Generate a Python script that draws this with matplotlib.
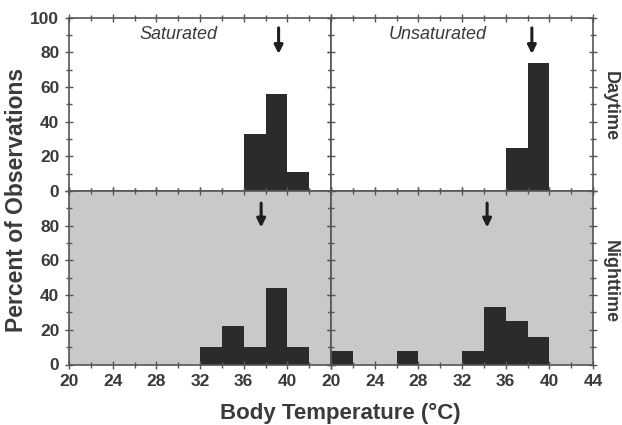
import numpy as np
import matplotlib.pyplot as plt
from matplotlib.ticker import MultipleLocator

# bin left edges (2 degree bins) and percentages
sat_day_bins = [36, 38, 40]
sat_day_pct = [33, 56, 11]
unsat_day_bins = [36, 38]
unsat_day_pct = [25, 74]
sat_night_bins = [32, 34, 36, 38, 40]
sat_night_pct = [10, 22, 10, 44, 10]
unsat_night_bins = [20, 26, 32, 34, 36, 38]
unsat_night_pct = [8, 8, 8, 33, 25, 16]

# mean body temperature arrows
sat_day_mean = 39.2
unsat_day_mean = 38.4
sat_night_mean = 37.6
unsat_night_mean = 34.3

x_ticks = [20, 24, 28, 32, 36, 40, 44]

plt.rcParams['font.family'] = ['Liberation Sans', 'DejaVu Sans']
txt_col = '#3a3a3a'
frame_col = '#555555'
bar_col = '#2b2b2b'
night_bg = '#c9c9c9'

fig = plt.figure(figsize=(6.22, 4.25), dpi=100)
L, W = 69 / 622, 262 / 622
top_b, bot_b, H = 1 - 191 / 425, 1 - 364.5 / 425, 173.5 / 425

ax_sd = fig.add_axes([L, top_b, W, H])
ax_ud = fig.add_axes([L + W, top_b, W, H])
ax_sn = fig.add_axes([L, bot_b, W, H])
ax_un = fig.add_axes([L + W, bot_b, W, H])

panels = [
    (ax_sd, sat_day_bins, sat_day_pct, sat_day_mean, 'white'),
    (ax_ud, unsat_day_bins, unsat_day_pct, unsat_day_mean, 'white'),
    (ax_sn, sat_night_bins, sat_night_pct, sat_night_mean, night_bg),
    (ax_un, unsat_night_bins, unsat_night_pct, unsat_night_mean, night_bg),
]

for ax, bins, pct, mean, bg in panels:
    ax.set_facecolor(bg)
    ax.bar(bins, pct, width=2, align='edge', color=bar_col, linewidth=0)
    ax.set_xlim(20, 44)
    ax.set_ylim(0, 100)
    ax.xaxis.set_major_locator(MultipleLocator(4))
    ax.xaxis.set_minor_locator(MultipleLocator(2))
    ax.yaxis.set_major_locator(MultipleLocator(20))
    ax.yaxis.set_minor_locator(MultipleLocator(10))
    ax.tick_params(which='both', direction='inout', top=True, right=True,
                   color=frame_col, width=1, labelcolor=txt_col)
    ax.tick_params(which='major', length=6, pad=4)
    ax.tick_params(which='minor', length=4)
    for s in ax.spines.values():
        s.set_color(frame_col)
        s.set_linewidth(1.2)
    y0 = 94 if bg == 'white' else 93
    ax.annotate('', xy=(mean, 79), xytext=(mean, y0),
                arrowprops=dict(arrowstyle='-|>,head_width=0.25,head_length=0.5',
                                color='#1e1e1e', lw=2.2, shrinkA=0, shrinkB=0))

for ax in [ax_sd, ax_ud]:
    ax.tick_params(labelbottom=False)
for ax in [ax_ud, ax_un]:
    ax.tick_params(labelleft=False)

ax_sd.set_yticks([0, 20, 40, 60, 80, 100])
ax_sd.set_yticklabels(['0', '20', '40', '60', '80', '100'], fontweight='bold', fontsize=12.5)
ax_sn.set_yticks([0, 20, 40, 60, 80, 100])
ax_sn.set_yticklabels(['0', '20', '40', '60', '80', ''], fontweight='bold', fontsize=12.5)

ax_sn.set_xticks(x_ticks)
ax_sn.set_xticklabels(['20', '24', '28', '32', '36', '40', ''], fontweight='bold', fontsize=12.5)
ax_un.set_xticks(x_ticks)
ax_un.set_xticklabels([str(v) for v in x_ticks], fontweight='bold', fontsize=12.5)

ax_sd.text(30, 90, 'Saturated', style='italic', fontsize=13, color=txt_col, ha='center', va='center')
ax_ud.text(29.8, 90, 'Unsaturated', style='italic', fontsize=13, color=txt_col, ha='center', va='center')

fig.text(17 / 622, 1 - 200 / 425, 'Percent of Observations', rotation=90, fontsize=16.5,
         fontweight='bold', color=txt_col, ha='center', va='center')
fig.text(340 / 622, 1 - 413 / 425, 'Body Temperature (°C)', fontsize=16,
         fontweight='bold', color=txt_col, ha='center', va='center')
fig.text(610 / 622, 1 - 106 / 425, 'Daytime', rotation=-90, fontsize=13,
         fontweight='bold', color=txt_col, ha='center', va='center')
fig.text(610 / 622, 1 - 282 / 425, 'Nighttime', rotation=-90, fontsize=13,
         fontweight='bold', color=txt_col, ha='center', va='center')

plt.savefig('out.png', dpi=100)
